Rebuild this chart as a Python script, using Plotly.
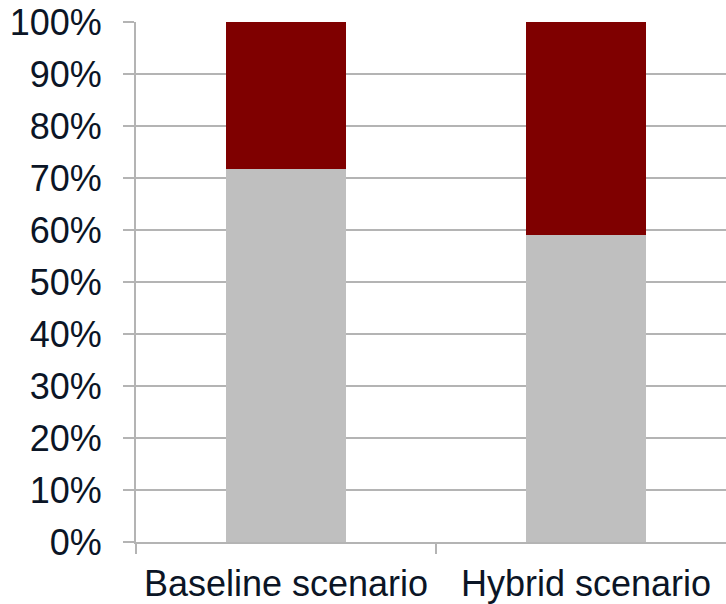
import plotly.graph_objects as go

scenarios = ["Baseline scenario", "Hybrid scenario"]
share_lower = [71.7, 59.0]
share_upper = [28.3, 41.0]

tick_vals = list(range(0, 101, 10))
tick_text = [f"{v}%" for v in tick_vals]

font_color = "#0b1526"
grid_color = "#b4b4b4"

fig = go.Figure()
fig.add_trace(go.Bar(x=scenarios, y=share_lower, marker=dict(color="#bfbfbf", line=dict(width=0)),
                     width=0.4, showlegend=False))
fig.add_trace(go.Bar(x=scenarios, y=share_upper, marker=dict(color="#7f0000", line=dict(width=0)),
                     width=0.4, showlegend=False))

fig.update_layout(
    barmode="stack",
    width=726, height=604,
    margin=dict(l=136, r=0, t=22, b=62),
    paper_bgcolor="white", plot_bgcolor="white",
    font=dict(family="Liberation Sans, Arial, sans-serif", size=36, color=font_color),
)
fig.update_xaxes(
    type="category",
    range=[-0.5, 1.4667],
    tickson="boundaries",
    ticks="outside", ticklen=10, tickwidth=2, tickcolor=grid_color,
    showline=True, linecolor=grid_color, linewidth=2,
    showgrid=False,
    ticklabelstandoff=9,
    tickfont=dict(size=36, color=font_color),
)
fig.update_yaxes(
    range=[0, 100],
    tickvals=tick_vals, ticktext=tick_text,
    ticks="outside", ticklen=11, tickwidth=2, tickcolor=grid_color,
    showline=True, linecolor=grid_color, linewidth=2,
    showgrid=True, gridcolor=grid_color, gridwidth=2,
    zeroline=False,
    ticklabelstandoff=14,
    tickfont=dict(size=36, color=font_color),
)

fig.write_html("out.html")
